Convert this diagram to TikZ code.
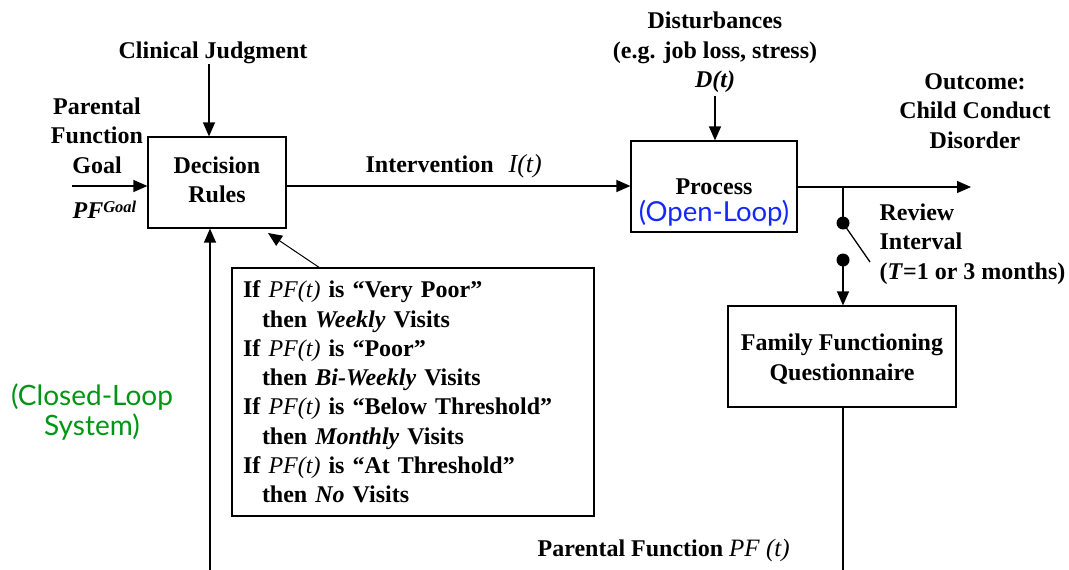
\documentclass[tikz,border=0pt]{standalone}
\usepackage{fontspec}
\setmainfont{Liberation Serif}
\newfontfamily\gill{Lato}
\usetikzlibrary{arrows.meta}
\definecolor{olblue}{RGB}{20,40,250}
\definecolor{clgreen}{RGB}{0,150,20}
\begin{document}
\begin{tikzpicture}[x=1pt,y=-1pt,line width=1.3pt,
  arr/.style={-{Triangle[length=14pt,width=12pt]}},
  blk/.style={draw,line width=1.2pt,inner sep=0pt,font=\fontsize{24}{29.5}\selectfont\bfseries,align=center},
  lbl/.style={font=\fontsize{24}{29.5}\selectfont\bfseries,align=center,inner sep=0pt},
  dot/.style={circle,fill=black,inner sep=0pt,minimum size=13pt}]
\useasboundingbox (0,0) rectangle (1069,570);
% boxes
\node[blk,minimum width=138pt,minimum height=91pt] (dr) at (217,182.5) {};
\node[lbl] (drt) at (217,180) {Decision\\Rules};
\node[blk,minimum width=166pt,minimum height=91pt] (proc) at (714,186.5) {};
\node[lbl,anchor=base] (proct) at (714,194) {Process};
\node[anchor=base,inner sep=0pt,font=\gill\fontsize{27.5}{30}\selectfont,text=olblue] (procol) at (714,221) {(Open-Loop)};
\node[blk,minimum width=228pt,minimum height=101pt] (ffq) at (842,356.5) {};
\node[lbl] (ffqt) at (842,359) {Family Functioning\\Questionnaire};
\node[blk,minimum width=362pt,minimum height=248pt,inner xsep=11pt,text width=340pt,align=left,font=\fontsize{24}{29.3}\selectfont\bfseries] (rules) at (413,392)
{If \textmd{\textit{PF(t)}} is “Very Poor”\\
\hspace*{19pt}then \textit{Weekly} Visits\\
If \textmd{\textit{PF(t)}} is “Poor”\\
\hspace*{19pt}then \textit{Bi-Weekly} Visits\\
If \textmd{\textit{PF(t)}} is “Below Threshold”\\
\hspace*{19pt}then \textit{Monthly} Visits\\
If \textmd{\textit{PF(t)}} is “At Threshold”\\
\hspace*{19pt}then \textit{No} Visits};
% labels
\node[lbl,anchor=base] (cj) at (213,58) {Clinical Judgment};
\node[lbl] (pfg) at (97,135.5) {Parental\\Function\\Goal};
\node[lbl,anchor=base west] (pfgs) at (72,218) {\textit{PF}\raisebox{6pt}{\fontsize{16.5}{16.5}\selectfont\textit{Goal}}};
\node[lbl] (dist) at (715,52.5) {Disturbances\\(e.g. job loss, stress)\\\textit{D(t)}};
\node[lbl] (out) at (975,111) {Outcome:\\Child Conduct\\Disorder};
\node[lbl,anchor=base west] (int) at (365,172) {Intervention\hspace{15pt}\textmd{\textit{\fontsize{26}{29}\selectfont I(t)}}};
\node[lbl,align=left,anchor=west] (rev) at (879,244) {Review\\Interval\\(\textit{T}=1 or 3 months)};
\node[lbl,anchor=base west] (pft) at (537,556) {Parental Function \textmd{\textit{\fontsize{25}{29}\selectfont PF (t)}}};
\node[inner sep=0pt,align=center,font=\gill\fontsize{28}{30}\selectfont,text=clgreen] (cl) at (92,412) {(Closed-Loop\\System)};
% coordinates
\coordinate (pfin) at (72,186);
\coordinate (cjb) at (209,64);
\coordinate (dstb) at (715,96);
\coordinate (outend) at (971,187);
\coordinate (br) at (843,187);
\coordinate (swend) at (870,262);
\coordinate (botL) at (210,570);
\coordinate (botR) at (843,570);
\coordinate (rp) at (320,268);
\coordinate (rt) at (268,233);
\node[dot] (d1) at (843,223) {};
\node[dot] (d2) at (843,260) {};
% connectors
\draw[arr] (pfin) -- (pfin -| dr.west);
\draw[arr] (cjb) -- (cjb |- dr.north);
\draw[arr] (dstb) -- (dstb |- proc.north);
\draw[arr] (dr.east |- pfin) -- (proc.west |- pfin);
\draw[arr] (proc.east |- br) -- (outend);
\draw (br) -- (d1.center);
\draw (d1.center) -- (swend);
\draw[arr] (d2.center) -- (d2 |- ffq.north);
\draw (ffq.south -| botR) -- (botR);
\draw[arr] (botL) -- (botL |- dr.south);
\draw[arr,line width=1pt] (rp) -- (rt);
\end{tikzpicture}
\end{document}
